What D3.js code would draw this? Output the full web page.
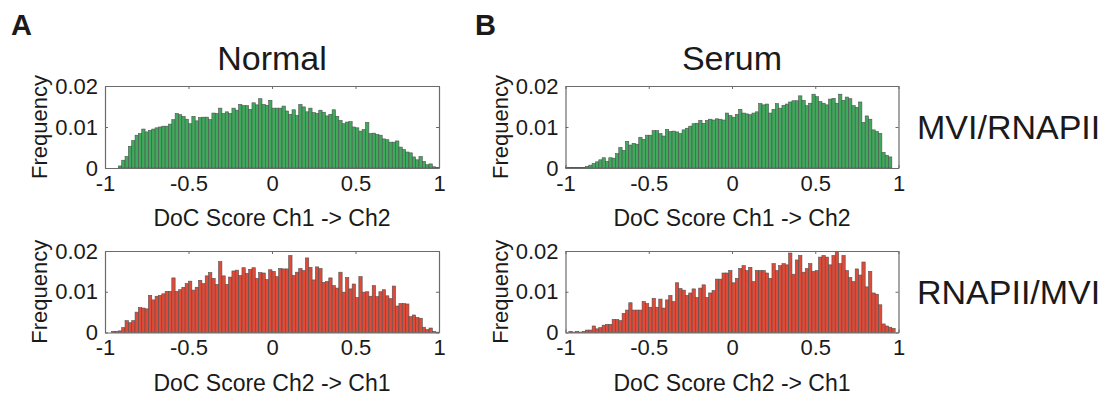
<!DOCTYPE html>
<html>
<head>
<meta charset="utf-8">
<script src="https://cdn.jsdelivr.net/npm/d3@7"></script>
<style>
  body { margin: 0; background: #fff; }
  text { font-family: "Liberation Sans", Arial, sans-serif; fill: #1a1a1a; }
</style>
</head>
<body>
<div id="chart"></div>
<script>
//////////////////////////////////////////////
// data //////////////////////////////////////
//////////////////////////////////////////////
// 100 bins of width 0.02 between -1 and 1 (frequency per bin)

var binStart = -1, binWidth = 0.02;

var normalMviRnap = [
  0, 0, 0, 0, 0.0005, 0.0019, 0.0028, 0.0053, 0.0067, 0.0080,
  0.0084, 0.0095, 0.0088, 0.0092, 0.0095, 0.0098, 0.0100, 0.0102, 0.0102, 0.0107,
  0.0118, 0.0133, 0.0130, 0.0126, 0.0119, 0.0108, 0.0126, 0.0115, 0.0123, 0.0124,
  0.0124, 0.0118, 0.0134, 0.0133, 0.0146, 0.0133, 0.0137, 0.0133, 0.0146, 0.0141,
  0.0155, 0.0152, 0.0152, 0.0143, 0.0159, 0.0154, 0.0169, 0.0155, 0.0153, 0.0165,
  0.0146, 0.0146, 0.0146, 0.0151, 0.0139, 0.0131, 0.0142, 0.0128, 0.0155, 0.0149,
  0.0137, 0.0146, 0.0135, 0.0133, 0.0141, 0.0136, 0.0127, 0.0131, 0.0142, 0.0126,
  0.0116, 0.0108, 0.0112, 0.0113, 0.0100, 0.0098, 0.0090, 0.0094, 0.0111, 0.0084,
  0.0085, 0.0082, 0.0080, 0.0071, 0.0069, 0.0063, 0.0063, 0.0066, 0.0051, 0.0045,
  0.0039, 0.0037, 0.0027, 0.0020, 0.0028, 0.0016, 0.0008, 0.0010, 0.0003, 0.0001
];

var serumMviRnap = [
  0.0001, 0.0001, 0.0001, 0.0001, 0.0001, 0.0001, 0.0004, 0.0007, 0.0011, 0.0015,
  0.0020, 0.0025, 0.0016, 0.0025, 0.0024, 0.0035, 0.0050, 0.0043, 0.0065, 0.0056,
  0.0060, 0.0058, 0.0075, 0.0070, 0.0080, 0.0080, 0.0091, 0.0091, 0.0084, 0.0078,
  0.0094, 0.0089, 0.0090, 0.0088, 0.0084, 0.0093, 0.0097, 0.0102, 0.0108, 0.0109,
  0.0116, 0.0109, 0.0116, 0.0119, 0.0117, 0.0120, 0.0119, 0.0117, 0.0134, 0.0128,
  0.0124, 0.0131, 0.0143, 0.0134, 0.0132, 0.0130, 0.0134, 0.0137, 0.0157, 0.0154,
  0.0156, 0.0134, 0.0143, 0.0157, 0.0146, 0.0153, 0.0156, 0.0161, 0.0164, 0.0164,
  0.0176, 0.0165, 0.0152, 0.0158, 0.0180, 0.0174, 0.0162, 0.0158, 0.0154, 0.0168,
  0.0170, 0.0158, 0.0180, 0.0165, 0.0173, 0.0169, 0.0152, 0.0148, 0.0161, 0.0111,
  0.0127, 0.0119, 0.0093, 0.0089, 0.0084, 0.0038, 0.0031, 0.0027, 0, 0
];

var normalRnapMvi = [
  0, 0, 0.0003, 0.0003, 0.0004, 0.0012, 0.0029, 0.0024, 0.0029, 0.0050,
  0.0061, 0.0060, 0.0058, 0.0091, 0.0080, 0.0089, 0.0091, 0.0095, 0.0101, 0.0101,
  0.0134, 0.0101, 0.0105, 0.0111, 0.0120, 0.0126, 0.0104, 0.0111, 0.0128, 0.0120,
  0.0139, 0.0147, 0.0133, 0.0118, 0.0174, 0.0139, 0.0118, 0.0136, 0.0151, 0.0153,
  0.0140, 0.0159, 0.0145, 0.0155, 0.0159, 0.0133, 0.0147, 0.0146, 0.0130, 0.0154,
  0.0150, 0.0137, 0.0157, 0.0156, 0.0156, 0.0189, 0.0140, 0.0148, 0.0157, 0.0152,
  0.0183, 0.0160, 0.0129, 0.0161, 0.0157, 0.0123, 0.0125, 0.0134, 0.0115, 0.0109,
  0.0148, 0.0099, 0.0135, 0.0107, 0.0119, 0.0086, 0.0137, 0.0099, 0.0100, 0.0089,
  0.0115, 0.0088, 0.0100, 0.0105, 0.0090, 0.0083, 0.0114, 0.0065, 0.0071, 0.0071,
  0.0070, 0.0039, 0.0043, 0.0037, 0.0035, 0.0013, 0.0007, 0.0011, 0.0003, 0.0001
];

var serumRnapMvi = [
  0, 0.0003, 0.0001, 0.0003, 0.0001, 0.0003, 0.0006, 0.0006, 0.0016, 0.0009,
  0.0012, 0.0018, 0.0020, 0.0020, 0.0032, 0.0032, 0.0029, 0.0047, 0.0055, 0.0073,
  0.0055, 0.0055, 0.0055, 0.0076, 0.0071, 0.0062, 0.0084, 0.0062, 0.0082, 0.0060,
  0.0080, 0.0091, 0.0076, 0.0122, 0.0108, 0.0104, 0.0091, 0.0097, 0.0107, 0.0086,
  0.0109, 0.0117, 0.0086, 0.0097, 0.0103, 0.0131, 0.0131, 0.0146, 0.0146, 0.0152,
  0.0122, 0.0133, 0.0157, 0.0164, 0.0152, 0.0160, 0.0125, 0.0152, 0.0152, 0.0152,
  0.0146, 0.0133, 0.0169, 0.0152, 0.0164, 0.0169, 0.0166, 0.0195, 0.0143, 0.0178,
  0.0189, 0.0148, 0.0157, 0.0169, 0.0150, 0.0152, 0.0185, 0.0189, 0.0185, 0.0166,
  0.0189, 0.0198, 0.0169, 0.0189, 0.0152, 0.0135, 0.0125, 0.0156, 0.0141, 0.0173,
  0.0112, 0.0150, 0.0097, 0.0094, 0.0068, 0.0021, 0.0016, 0.0013, 0.0010, 0
];

var xTicks = [-1, -0.5, 0, 0.5, 1];
var yTicks = [0, 0.01, 0.02];
var columnTitles = ["Normal", "Serum"];
var rowTitles = ["MVI/RNAPII", "RNAPII/MVI"];
var panelLetters = ["A", "B"];
var xLabels = ["DoC Score Ch1 -> Ch2", "DoC Score Ch2 -> Ch1"];
var barColors = ["#3fa95c", "#e04a37"];

//////////////////////////////////////////////
// layout ////////////////////////////////////
//////////////////////////////////////////////
var W = 1115, H = 401;
var cols = [[105, 439], [565.5, 898.5]];   // x pixel range per column
var rows = [[168, 86], [332.5, 251]];      // y pixel range per row (bottom, top)

var svg = d3.select("#chart").append("svg")
    .attr("width", W).attr("height", H);

var panels = [
  {col: 0, row: 0, data: normalMviRnap},
  {col: 1, row: 0, data: serumMviRnap},
  {col: 0, row: 1, data: normalRnapMvi},
  {col: 1, row: 1, data: serumRnapMvi}
];

function fmt(d) { return d === 0 ? "0" : String(d).replace("-", "-"); }

panels.forEach(function(p) {
  var x = d3.scaleLinear().domain([-1, 1]).range(cols[p.col]);
  var y = d3.scaleLinear().domain([0, 0.02]).range(rows[p.row]);
  var g = svg.append("g");

  // bars
  g.selectAll("rect.bar").data(p.data).enter().append("rect")
    .attr("class", "bar")
    .attr("x", function(d, i) { return x(binStart + i * binWidth); })
    .attr("width", function(d, i) { return x(binStart + (i + 1) * binWidth) - x(binStart + i * binWidth); })
    .attr("y", function(d) { return y(d); })
    .attr("height", function(d) { return y(0) - y(d); })
    .style("fill", barColors[p.row])
    .style("stroke", "#505050")
    .style("stroke-width", 0.6);

  // axes box with inside ticks, matlab style
  var axCol = "#6b6b6b";
  var xAxisB = d3.axisBottom(x).tickValues(xTicks).tickSizeInner(-3).tickSizeOuter(0).tickPadding(7).tickFormat(fmt);
  var xAxisT = d3.axisTop(x).tickValues(xTicks).tickSizeInner(-3).tickSizeOuter(0).tickFormat("");
  var yAxisL = d3.axisLeft(y).tickValues(yTicks).tickSizeInner(-3).tickSizeOuter(0).tickPadding(7).tickFormat(fmt);
  var yAxisR = d3.axisRight(y).tickValues(yTicks).tickSizeInner(-3).tickSizeOuter(0).tickFormat("");

  var gb = g.append("g").attr("transform", "translate(0," + y(0) + ")").call(xAxisB);
  var gt = g.append("g").attr("transform", "translate(0," + y(0.02) + ")").call(xAxisT);
  var gl = g.append("g").attr("transform", "translate(" + x(-1) + ",0)").call(yAxisL);
  var gr = g.append("g").attr("transform", "translate(" + x(1) + ",0)").call(yAxisR);

  [gb, gt, gl, gr].forEach(function(a) {
    a.select(".domain").attr("stroke", axCol).attr("stroke-width", 1.2);
    a.selectAll(".tick line").attr("stroke", axCol);
    a.selectAll("text").style("font-size", "22px").attr("fill", "#1a1a1a")
      .style("font-family", "'Liberation Sans', Arial, sans-serif");
  });
  gb.selectAll("text").attr("dy", "0.71em");

  // y label
  var cy = (rows[p.row][0] + rows[p.row][1]) / 2;
  g.append("text")
    .attr("transform", "translate(" + (x(-1) - 58) + "," + cy + ") rotate(-90)")
    .attr("text-anchor", "middle")
    .style("font-size", "22px")
    .text("Frequency");

  // x label
  g.append("text")
    .attr("x", (cols[p.col][0] + cols[p.col][1]) / 2)
    .attr("y", y(0) + 58)
    .attr("text-anchor", "middle")
    .style("font-size", "23px")
    .text(xLabels[p.row]);
});

// column titles and panel letters
columnTitles.forEach(function(t, i) {
  svg.append("text")
    .attr("x", (cols[i][0] + cols[i][1]) / 2)
    .attr("y", 70)
    .attr("text-anchor", "middle")
    .style("font-size", "34px")
    .text(t);
  svg.append("text")
    .attr("x", i === 0 ? 11 : 475)
    .attr("y", 35)
    .style("font-size", "29px")
    .style("font-weight", "bold")
    .text(panelLetters[i]);
});

// row titles on the right
rowTitles.forEach(function(t, i) {
  svg.append("text")
    .attr("x", 917)
    .attr("y", (rows[i][0] + rows[i][1]) / 2 + 12)
    .style("font-size", "34px")
    .text(t);
});
</script>
</body>
</html>
